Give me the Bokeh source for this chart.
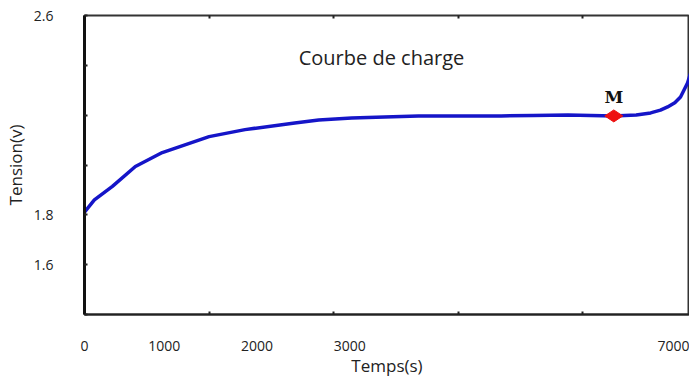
import math
from bokeh.plotting import figure
from bokeh.models import FixedTicker, LinearAxis, Range1d
from bokeh.core.properties import value
from bokeh.embed import file_html
from bokeh.resources import INLINE

# ---- data ----
time_s = [0, 110, 311, 567, 867, 1389, 1789, 2344, 2611, 2978, 3344, 3722,
          4200, 4644, 5000, 5389, 5900, 6150, 6311, 6420, 6500, 6580, 6644,
          6722, 6778, 6833]
tension_v = [1.811, 1.86, 1.914, 1.994, 2.050, 2.114, 2.142, 2.169, 2.181, 2.189,
             2.193, 2.197, 2.197, 2.197, 2.199, 2.201, 2.197, 2.201, 2.209, 2.220,
             2.233, 2.250, 2.273, 2.329, 2.393, 2.50]
m_time = [5900]
m_tension = [2.197]
m_label = ["M"]

x_label_pos = [0, 889, 1922, 2956, 6644]
x_tick_labels = ["0", "1000", "2000", "3000", "7000"]
x_tick_marks = [1389, 2778, 4167, 5556]
y_label_pos = [1.6, 1.8, 2.6]
y_tick_marks = [1.4, 1.6, 1.8, 2.0, 2.2, 2.4, 2.6]

title_text = ["Courbe de charge"]
title_x = [3311]
title_y = [2.433]

FONT = "Open Sans"
INK = "#222222"

p = figure(width=689, height=379, output_backend="svg", toolbar_location=None,
           x_range=Range1d(0, 6744), y_range=Range1d(1.4, 2.6),
           min_border_left=82, min_border_top=15, min_border_bottom=63,
           min_border_right=0)
p.background_fill_color = "white"
p.border_fill_color = "white"
p.grid.visible = False
p.outline_line_color = "#333333"
p.outline_line_width = 2

# x axis (bottom)
xa = p.xaxis[0]
xa.ticker = FixedTicker(ticks=x_label_pos, minor_ticks=x_tick_marks)
xa.major_label_overrides = {pos: lab for pos, lab in zip(x_label_pos, x_tick_labels)}
xa.major_tick_line_color = None
xa.minor_tick_line_color = INK
xa.minor_tick_line_width = 2
xa.minor_tick_in = 3
xa.minor_tick_out = 0
xa.axis_line_color = INK
xa.axis_line_width = 2
xa.major_label_standoff = 20
xa.major_label_text_font = FONT
xa.major_label_text_font_size = "14px"
xa.major_label_text_color = INK
xa.axis_label = "Temps(s)"
xa.axis_label_text_font = FONT
xa.axis_label_text_font_size = "17px"
xa.axis_label_text_font_style = "normal"
xa.axis_label_text_color = INK
xa.axis_label_standoff = 0

# top axis: tick marks only
top = LinearAxis(ticker=FixedTicker(ticks=[], minor_ticks=x_tick_marks),
                 axis_line_color=None, major_tick_line_color=None,
                 minor_tick_line_color=INK, minor_tick_line_width=2,
                 minor_tick_in=3, minor_tick_out=0, major_label_standoff=0)
p.add_layout(top, "above")

# y axis
ya = p.yaxis[0]
ya.ticker = FixedTicker(ticks=y_label_pos, minor_ticks=y_tick_marks)
ya.major_tick_line_color = None
ya.minor_tick_line_color = INK
ya.minor_tick_line_width = 2
ya.minor_tick_in = 3
ya.minor_tick_out = 0
ya.axis_line_color = "#111111"
ya.axis_line_width = 3
ya.major_label_standoff = 25
ya.major_label_text_font = FONT
ya.major_label_text_font_size = "14px"
ya.major_label_text_color = INK
ya.axis_label = "Tension(v)"
ya.axis_label_text_font = FONT
ya.axis_label_text_font_size = "17px"
ya.axis_label_text_font_style = "normal"
ya.axis_label_text_color = INK
ya.axis_label_standoff = 4

# curve
p.line(time_s, tension_v, line_color="#1515c8", line_width=3.5)

# point M
p.scatter(m_time, m_tension, marker="diamond", size=18, angle=math.pi / 2,
          fill_color="#ee1111", line_color="#ee1111")
p.text(m_time, m_tension, text=m_label, text_align="center", text_baseline="bottom",
       y_offset=-9, text_font=value("DejaVu Serif"), text_font_style="bold",
       text_font_size="17px", text_color="#111111")

# title inside plot
p.text(title_x, title_y, text=title_text, text_align="center", text_baseline="middle",
       text_font=value(FONT), text_font_size="20px", text_color=INK)

open("out.html", "w").write(file_html(p, INLINE))
